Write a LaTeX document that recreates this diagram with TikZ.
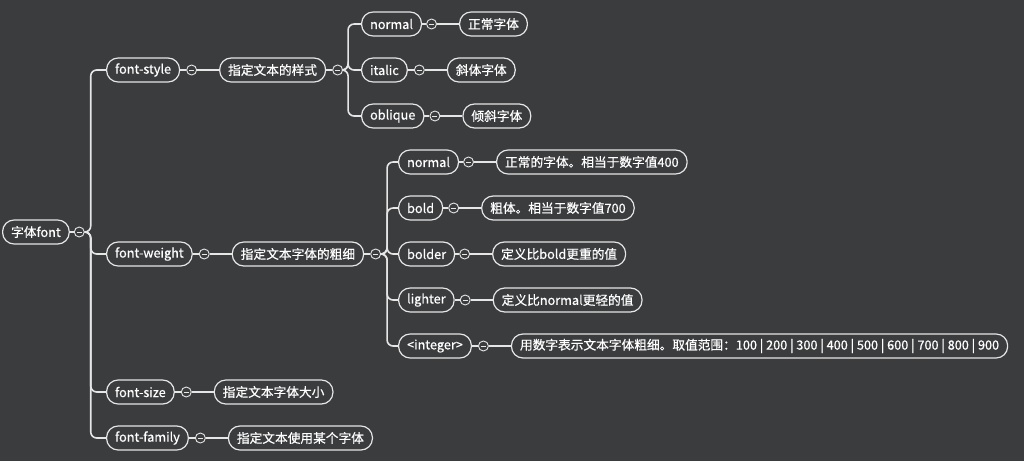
\documentclass[tikz,border=0pt]{standalone}
\usepackage{fontspec}
\setmainfont{Noto Sans CJK SC}[FakeBold=0.6]
\usetikzlibrary{positioning}
\definecolor{bgdark}{HTML}{3B3C3E}
\definecolor{linegray}{HTML}{E6E6E6}

\begin{document}
\begin{tikzpicture}[x=1pt, y=-1pt,
    every node/.style={font=\fontsize{12.7}{15}\selectfont, text=white},
    topic/.style={draw=linegray, line width=1.2pt, fill=bgdark, rounded corners=11.5pt,
        minimum height=24pt, inner xsep=8.5pt, inner ysep=0pt, anchor=west},
    fold/.style={draw=linegray, line width=0.9pt, fill=bgdark, circle, minimum size=10pt,
        inner sep=0pt, path picture={\draw[linegray, line width=0.8pt]
        ([xshift=-2.5pt]path picture bounding box.center) --
        ([xshift=2.5pt]path picture bounding box.center);}},
    link/.style={linegray, line width=1.6pt, rounded corners=6pt}]
    \fill[bgdark] (0,0) rectangle (1024,461);
    \useasboundingbox (0,0) rectangle (1024,461);

    % root
    \node[topic] (root) at (2,232) {字体font};
    \node[fold, right=4pt of root] (root-f) {};

    % first level
    \node[topic] (style) at (106,70) {font-style};
    \node[topic] (weight) at (106,254) {font-weight};
    \node[topic] (size) at (106,392) {font-size};
    \node[topic] (family) at (106,438) {font-family};
    \node[fold, right=6pt of style] (style-f) {};
    \node[fold, right=6pt of weight] (weight-f) {};
    \node[fold, right=6pt of size] (size-f) {};
    \node[fold, right=6pt of family] (family-f) {};

    \node[topic, right=22pt of style-f] (style-d) {指定文本的样式};
    \node[topic, right=22pt of weight-f] (weight-d) {指定文本字体的粗细};
    \node[topic, right=22pt of size-f] (size-d) {指定文本字体大小};
    \node[topic, right=22pt of family-f] (family-d) {指定文本使用某个字体};
    \node[fold, right=6pt of style-d] (style-d-f) {};
    \node[fold, right=6pt of weight-d] (weight-d-f) {};

    % font-style values
    \node[topic] (s-normal) at (361,24) {normal};
    \node[topic] (s-italic) at (361,70) {italic};
    \node[topic] (s-oblique) at (361,116) {oblique};
    \node[fold, right=4pt of s-normal] (s-normal-f) {};
    \node[fold, right=6pt of s-italic] (s-italic-f) {};
    \node[fold, right=5pt of s-oblique] (s-oblique-f) {};
    \node[topic, right=22pt of s-normal-f] (s-normal-d) {正常字体};
    \node[topic, right=22pt of s-italic-f] (s-italic-d) {斜体字体};
    \node[topic, right=22pt of s-oblique-f] (s-oblique-d) {倾斜字体};

    % font-weight values
    \node[topic] (w-normal) at (398,162) {normal};
    \node[topic] (w-bold) at (398,208) {bold};
    \node[topic] (w-bolder) at (398,254) {bolder};
    \node[topic] (w-lighter) at (398,300) {lighter};
    \node[topic] (w-int) at (398,346) {<integer>};
    \node[fold, right=4pt of w-normal] (w-normal-f) {};
    \node[fold, right=5pt of w-bold] (w-bold-f) {};
    \node[fold, right=4pt of w-bolder] (w-bolder-f) {};
    \node[fold, right=5pt of w-lighter] (w-lighter-f) {};
    \node[fold, right=6pt of w-int] (w-int-f) {};
    \node[topic, right=22pt of w-normal-f] (w-normal-d) {正常的字体。相当于数字值400};
    \node[topic, right=22pt of w-bold-f] (w-bold-d) {粗体。相当于数字值700};
    \node[topic, right=22pt of w-bolder-f] (w-bolder-d) {定义比bold更重的值};
    \node[topic, right=22pt of w-lighter-f] (w-lighter-d) {定义比normal更轻的值};
    \node[topic, right=22pt of w-int-f] (w-int-d) {用数字表示文本字体粗细。取值范围：100 | 200 | 300 | 400 | 500 | 600 | 700 | 800 | 900};

    % connectors
    \draw[link] (root) -- (root-f);
    \foreach \c in {style, weight, size, family}
        \draw[link] (root-f.east) -- ++(6,0) |- (\c.west);
    \foreach \c in {style, weight, size, family}
        \draw[link] (\c) -- (\c-f) (\c-f) -- (\c-d);
    \draw[link] (style-d) -- (style-d-f);
    \foreach \c in {s-normal, s-italic, s-oblique}
        \draw[link] (style-d-f.east) -- ++(5,0) |- (\c.west);
    \draw[link] (weight-d) -- (weight-d-f);
    \foreach \c in {w-normal, w-bold, w-bolder, w-lighter, w-int}
        \draw[link] (weight-d-f.east) -- ++(6,0) |- (\c.west);
    \foreach \c in {s-normal, s-italic, s-oblique, w-normal, w-bold, w-bolder, w-lighter, w-int}
        \draw[link] (\c) -- (\c-f) (\c-f) -- (\c-d);
\end{tikzpicture}
\end{document}
